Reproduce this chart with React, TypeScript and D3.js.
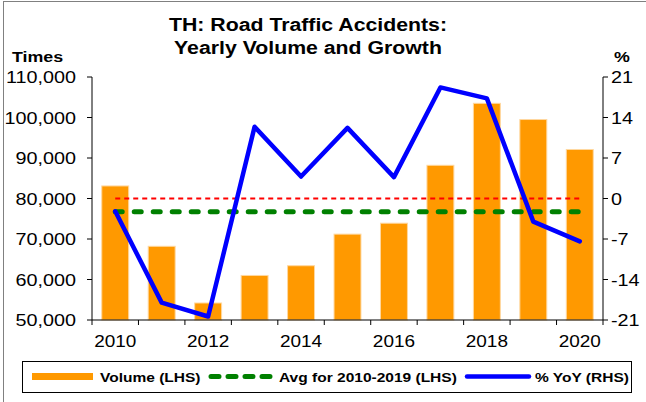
import React from "react";
import * as d3 from "d3";

const W = 646;
const H = 402;
const PLOT = { LEFT: 92, RIGHT: 603, TOP: 77, BOTTOM: 320 };
const FONT = "'Liberation Sans', Arial, sans-serif";
const STRETCH = 1.15;

// data
const years = ["2010", "2011", "2012", "2013", "2014", "2015", "2016", "2017", "2018", "2019", "2020"];
const volume = [83100, 68200, 54200, 61000, 63400, 71200, 73900, 88200, 103500, 99500, 92100];
const yoy = [-2.2, -18.0, -20.4, 12.4, 3.8, 12.2, 3.7, 19.2, 17.3, -4.0, -7.4];
const avgVolume = 76700;
const leftTicks = [50000, 60000, 70000, 80000, 90000, 100000, 110000];
const rightTicks = [-21, -14, -7, 0, 7, 14, 21];
const xLabels = ["2010", "2012", "2014", "2016", "2018", "2020"];

// stretched text helper (the reference is slightly widened)
const T = ({ x, y, children, size = 16, bold = false, anchor = "start", sx = STRETCH }: any) => (
  <text
    transform={`translate(${x},${y}) scale(${sx},1)`}
    fontFamily={FONT}
    fontSize={size}
    fontWeight={bold ? "bold" : "normal"}
    textAnchor={anchor}
    fill="#000"
  >
    {children}
  </text>
);

const App = () => {
  const x = d3.scaleBand<string>().domain(years).range([PLOT.LEFT, PLOT.RIGHT]).padding(0);
  const bw = x.bandwidth();
  const yL = d3.scaleLinear().domain([50000, 110000]).range([PLOT.BOTTOM, PLOT.TOP]);
  const yR = d3.scaleLinear().domain([-21, 21]).range([PLOT.BOTTOM, PLOT.TOP]);
  const cx = (yr: string) => (x(yr) as number) + bw / 2;

  const yoyLine = d3
    .line<number>()
    .x((_, i) => cx(years[i]))
    .y((d) => yR(d));

  const fmt = d3.format(",");
  const first = cx(years[0]);
  const last = cx(years[years.length - 1]);

  return (
    <div style={{ position: "absolute", left: 0, top: 0 }}>
      <svg width={W} height={H} style={{ display: "block", background: "#fff" }}>
        <rect x={3.5} y={1.5} width={800} height={600} fill="none" stroke="#808080" />

        {/* title */}
        <T x={308} y={31} size={18.5} bold anchor="middle">TH: Road Traffic Accidents:</T>
        <T x={308} y={54} size={18.5} bold anchor="middle">Yearly Volume and Growth</T>
        <T x={12} y={62} size={15.5} bold>Times</T>
        <T x={614} y={62} size={15.5} bold>%</T>

        {/* bars */}
        {volume.map((v, i) => (
          <rect
            key={years[i]}
            x={(x(years[i]) as number) + bw * 0.21}
            y={yL(v)}
            width={bw * 0.58}
            height={PLOT.BOTTOM - yL(v)}
            fill="#FF9900"
            stroke="#FFD8A0"
            strokeWidth={1}
          />
        ))}

        {/* reference lines */}
        <line x1={first} x2={last} y1={yR(0)} y2={yR(0)} stroke="#FF0000" strokeWidth={2} strokeDasharray="5,4" />
        <line
          x1={first}
          x2={last}
          y1={yL(avgVolume)}
          y2={yL(avgVolume)}
          stroke="#008000"
          strokeWidth={5}
          strokeDasharray="7,12"
          strokeLinecap="round"
        />

        {/* yoy line */}
        <path d={yoyLine(yoy) as string} fill="none" stroke="#0000FF" strokeWidth={4.5} strokeLinejoin="round" strokeLinecap="round" />

        {/* left axis */}
        <line x1={PLOT.LEFT} x2={PLOT.LEFT} y1={PLOT.TOP} y2={PLOT.BOTTOM} stroke="#000" />
        {leftTicks.map((t) => (
          <g key={t}>
            <line x1={PLOT.LEFT - 5} x2={PLOT.LEFT} y1={yL(t)} y2={yL(t)} stroke="#000" />
            <T x={76} y={yL(t) + 6} size={16.5} sx={1.2} anchor="end">{fmt(t)}</T>
          </g>
        ))}

        {/* right axis */}
        <line x1={PLOT.RIGHT} x2={PLOT.RIGHT} y1={PLOT.TOP} y2={PLOT.BOTTOM} stroke="#000" />
        {rightTicks.map((t) => (
          <g key={t}>
            <line x1={PLOT.RIGHT} x2={PLOT.RIGHT + 5} y1={yR(t)} y2={yR(t)} stroke="#000" />
            <T x={611} y={yR(t) + 6} size={16.5} sx={1.2}>{t}</T>
          </g>
        ))}

        {/* x axis */}
        <line x1={PLOT.LEFT} x2={PLOT.RIGHT} y1={PLOT.BOTTOM} y2={PLOT.BOTTOM} stroke="#000" />
        {years.concat(["end"]).map((yr, i) => {
          const tx = i < years.length ? (x(yr) as number) : PLOT.RIGHT;
          return <line key={yr} x1={tx} x2={tx} y1={PLOT.BOTTOM} y2={PLOT.BOTTOM + 5} stroke="#000" />;
        })}
        {xLabels.map((yr) => (
          <T key={yr} x={cx(yr)} y={347} size={16.5} sx={1.15} anchor="middle">{yr}</T>
        ))}

        {/* legend */}
        <rect x={22.5} y={361.5} width={609} height={31} fill="#fff" stroke="#000" />
        <line x1={32} x2={93} y1={376.5} y2={376.5} stroke="#FF9900" strokeWidth={7} />
        <T x={100} y={381.5} size={13.5} bold sx={1.15}>Volume (LHS)</T>
        <line x1={211} x2={272} y1={376.5} y2={376.5} stroke="#008000" strokeWidth={5} strokeDasharray="8,9" strokeLinecap="round" />
        <T x={279} y={381.5} size={13.5} bold sx={1.15}>Avg for 2010-2019 (LHS)</T>
        <line x1={467} x2={529} y1={376.5} y2={376.5} stroke="#0000FF" strokeWidth={4.5} strokeLinecap="round" />
        <T x={535} y={381.5} size={13.5} bold sx={1.15}>% YoY (RHS)</T>
      </svg>
    </div>
  );
};

export default App;
